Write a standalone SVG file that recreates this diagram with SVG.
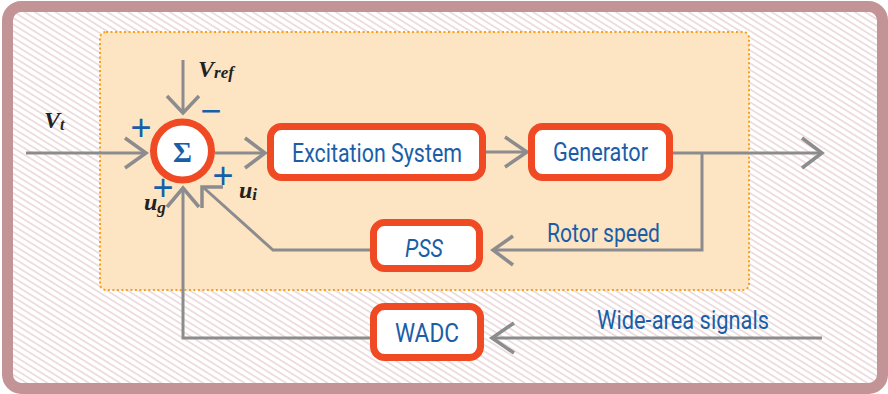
<svg xmlns="http://www.w3.org/2000/svg" width="888" height="394" viewBox="0 0 888 394">
<defs>
<pattern id="hatch" width="5.5" height="5.5" patternUnits="userSpaceOnUse" patternTransform="rotate(32)">
<rect width="5.5" height="5.5" fill="#ffffff"/>
<line x1="0" y1="2.75" x2="5.5" y2="2.75" stroke="#dbb9bd" stroke-width="0.9"/>
</pattern>
<style>
.conn{fill:none;stroke:#8c8c8e;stroke-width:3;stroke-linejoin:miter}
.head{fill:none;stroke:#8c8c8e;stroke-width:3.5;stroke-linejoin:miter;stroke-linecap:butt}
.box{fill:#ffffff;stroke:#ef4a24;stroke-width:7}
.lbl{font-family:Roboto,"Liberation Sans",sans-serif;fill:#1a5ea8;font-size:25px;text-anchor:middle}
.sig{font-family:"Liberation Serif",serif;font-weight:bold;font-style:italic;fill:#222222}
.pm{font-family:"Liberation Sans",sans-serif;fill:#1560a8;font-size:36px;text-anchor:middle}
</style>
</defs>
<g id="frame">
<rect x="7.5" y="6.5" width="875" height="382" rx="14" fill="url(#hatch)" stroke="#c39496" stroke-width="11"/>
<rect x="100" y="32" width="649" height="258" rx="6" fill="#fde4c2" stroke="#f7a11a" stroke-width="2" stroke-dasharray="2 2.5"/>
</g>
<g id="connectors">
<polyline class="conn" points="26,153 146,153"/>
<polyline class="head" points="125,138 146,153 125,168"/>
<polyline class="conn" points="183,60 183,112"/>
<polyline class="head" points="167,96 183,113 199,96"/>
<polyline class="conn" points="215,153 264,153"/>
<polyline class="head" points="245,138 265,153 245,168"/>
<polyline class="conn" points="486,152 526,152"/>
<polyline class="head" points="505,137 527,152 505,167"/>
<polyline class="conn" points="673,153 821,153"/>
<polyline class="head" points="802,138 822,153 802,168"/>
<polyline class="conn" points="702,153 702,250 494,250"/>
<polyline class="head" points="513,236 493,250 513,265"/>
<polyline class="conn" points="370,250 273,250 204,188"/>
<polyline class="head" points="202,208 202,187 223,187"/>
<polyline class="conn" points="370,338 183,338 183,189"/>
<polyline class="head" points="167,207 183,188 199,207"/>
<polyline class="conn" points="822,338 493,338"/>
<polyline class="head" points="514,323 492,338 514,353"/>
</g>
<g id="sum">
<circle cx="182.5" cy="151" r="29" fill="#ffffff" stroke="#ef4a24" stroke-width="7"/>
<text x="182.5" y="162" font-family="'Liberation Serif',serif" font-weight="bold" font-size="29" fill="#1a5ea8" text-anchor="middle">Σ</text>
</g>
<g id="signs">
<text class="pm" x="141" y="140">+</text>
<text class="pm" x="211" y="123">−</text>
<text class="pm" x="163" y="200">+</text>
<text class="pm" x="223" y="188">+</text>
</g>
<g id="labels">
<text class="sig" x="44" y="128" font-size="24">V<tspan font-size="16" dy="2">t</tspan></text>
<text class="sig" x="198" y="77" font-size="24">V<tspan font-size="17" dy="1">ref</tspan></text>
<text class="sig" x="144" y="210" font-size="24">u<tspan font-size="17" dy="3">g</tspan></text>
<text class="sig" x="239" y="198" font-size="24">u<tspan font-size="17" dy="2">i</tspan></text>
</g>
<g id="excitation">
<rect class="box" x="270.5" y="126.5" width="212" height="51" rx="11"/>
<text class="lbl" x="377" y="162" textLength="170" lengthAdjust="spacingAndGlyphs">Excitation System</text>
</g>
<g id="generator">
<rect class="box" x="531.5" y="126.5" width="138" height="51" rx="11"/>
<text class="lbl" x="600.5" y="161" textLength="95" lengthAdjust="spacingAndGlyphs">Generator</text>
</g>
<g id="pss">
<rect class="box" x="373.5" y="222.5" width="106" height="46" rx="11"/>
<text class="lbl" x="424" y="257" font-style="italic" textLength="38" lengthAdjust="spacingAndGlyphs">PSS</text>
</g>
<g id="wadc">
<rect class="box" x="373.5" y="306.5" width="107" height="51" rx="11"/>
<text class="lbl" x="427" y="342" textLength="64" lengthAdjust="spacingAndGlyphs">WADC</text>
</g>
<g id="edge-labels">
<text class="lbl" x="603.5" y="242" textLength="113" lengthAdjust="spacingAndGlyphs">Rotor speed</text>
<text class="lbl" x="683" y="329" textLength="172" lengthAdjust="spacingAndGlyphs">Wide-area signals</text>
</g>
</svg>
